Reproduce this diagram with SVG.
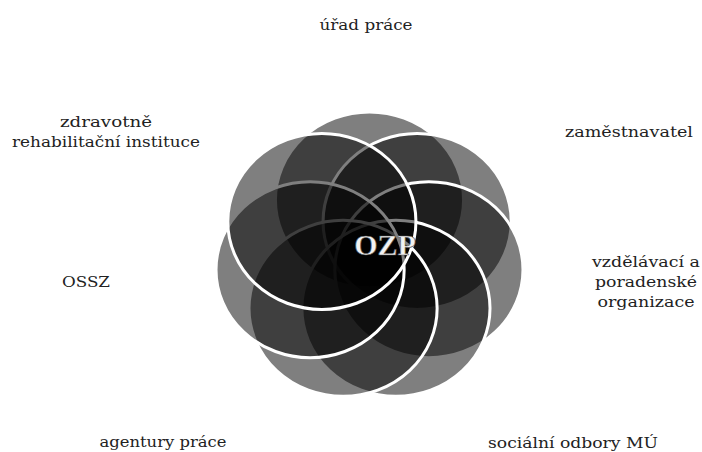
<svg xmlns="http://www.w3.org/2000/svg" width="702" height="452" viewBox="0 0 702 452">
  <style>
    .ring { fill: #000; fill-opacity: 0.5; stroke: #fff; stroke-width: 3; }
    .lbl { font-family: "DejaVu Serif", "Liberation Serif", serif; font-size: 15px; fill: #222; text-anchor: middle; }
    .center { font-family: "Liberation Serif", "Times New Roman", serif; font-size: 30px; font-weight: bold; fill: #f2f2f2; stroke: #555; stroke-width: 0.6; }
  </style>
  <rect width="702" height="452" fill="#fff"/>
  <g id="rings" transform="translate(369.5 257) scale(1.069 1)">
    <g id="ring-0"><circle class="ring" cx="0" cy="-57" r="88" vector-effect="non-scaling-stroke"/></g>
    <g id="ring-1"><circle class="ring" cx="44.56" cy="-35.54" r="88" vector-effect="non-scaling-stroke"/></g>
    <g id="ring-2"><circle class="ring" cx="55.57" cy="12.68" r="88" vector-effect="non-scaling-stroke"/></g>
    <g id="ring-3"><circle class="ring" cx="24.73" cy="51.36" r="88" vector-effect="non-scaling-stroke"/></g>
    <g id="ring-4"><circle class="ring" cx="-24.73" cy="51.36" r="88" vector-effect="non-scaling-stroke"/></g>
    <g id="ring-5"><circle class="ring" cx="-55.57" cy="12.68" r="88" vector-effect="non-scaling-stroke"/></g>
    <g id="ring-6"><circle class="ring" cx="-44.56" cy="-35.54" r="88" vector-effect="non-scaling-stroke"/></g>
  </g>
  <g id="connectors"/>
  <g id="node-ozp"><text class="center" x="385" y="255" text-anchor="middle">OZP</text></g>
  <g id="node-urad-prace"><text class="lbl" x="366" y="30" textLength="93" lengthAdjust="spacingAndGlyphs">úřad práce</text></g>
  <g id="node-zdravotne"><text class="lbl" x="106" y="127" textLength="92" lengthAdjust="spacingAndGlyphs">zdravotně</text><text class="lbl" x="106" y="147" textLength="188" lengthAdjust="spacingAndGlyphs">rehabilitační instituce</text></g>
  <g id="node-zamestnavatel"><text class="lbl" x="629" y="137" textLength="128" lengthAdjust="spacingAndGlyphs">zaměstnavatel</text></g>
  <g id="node-vzdelavaci"><text class="lbl" x="646" y="267" textLength="108" lengthAdjust="spacingAndGlyphs">vzdělávací a</text><text class="lbl" x="646" y="287" textLength="102" lengthAdjust="spacingAndGlyphs">poradenské</text><text class="lbl" x="646" y="307" textLength="97" lengthAdjust="spacingAndGlyphs">organizace</text></g>
  <g id="node-ossz"><text class="lbl" x="86" y="287" textLength="48" lengthAdjust="spacingAndGlyphs">OSSZ</text></g>
  <g id="node-agentury"><text class="lbl" x="163" y="447" textLength="127" lengthAdjust="spacingAndGlyphs">agentury práce</text></g>
  <g id="node-socialni"><text class="lbl" x="573" y="448" textLength="170" lengthAdjust="spacingAndGlyphs">sociální odbory MÚ</text></g>
</svg>
